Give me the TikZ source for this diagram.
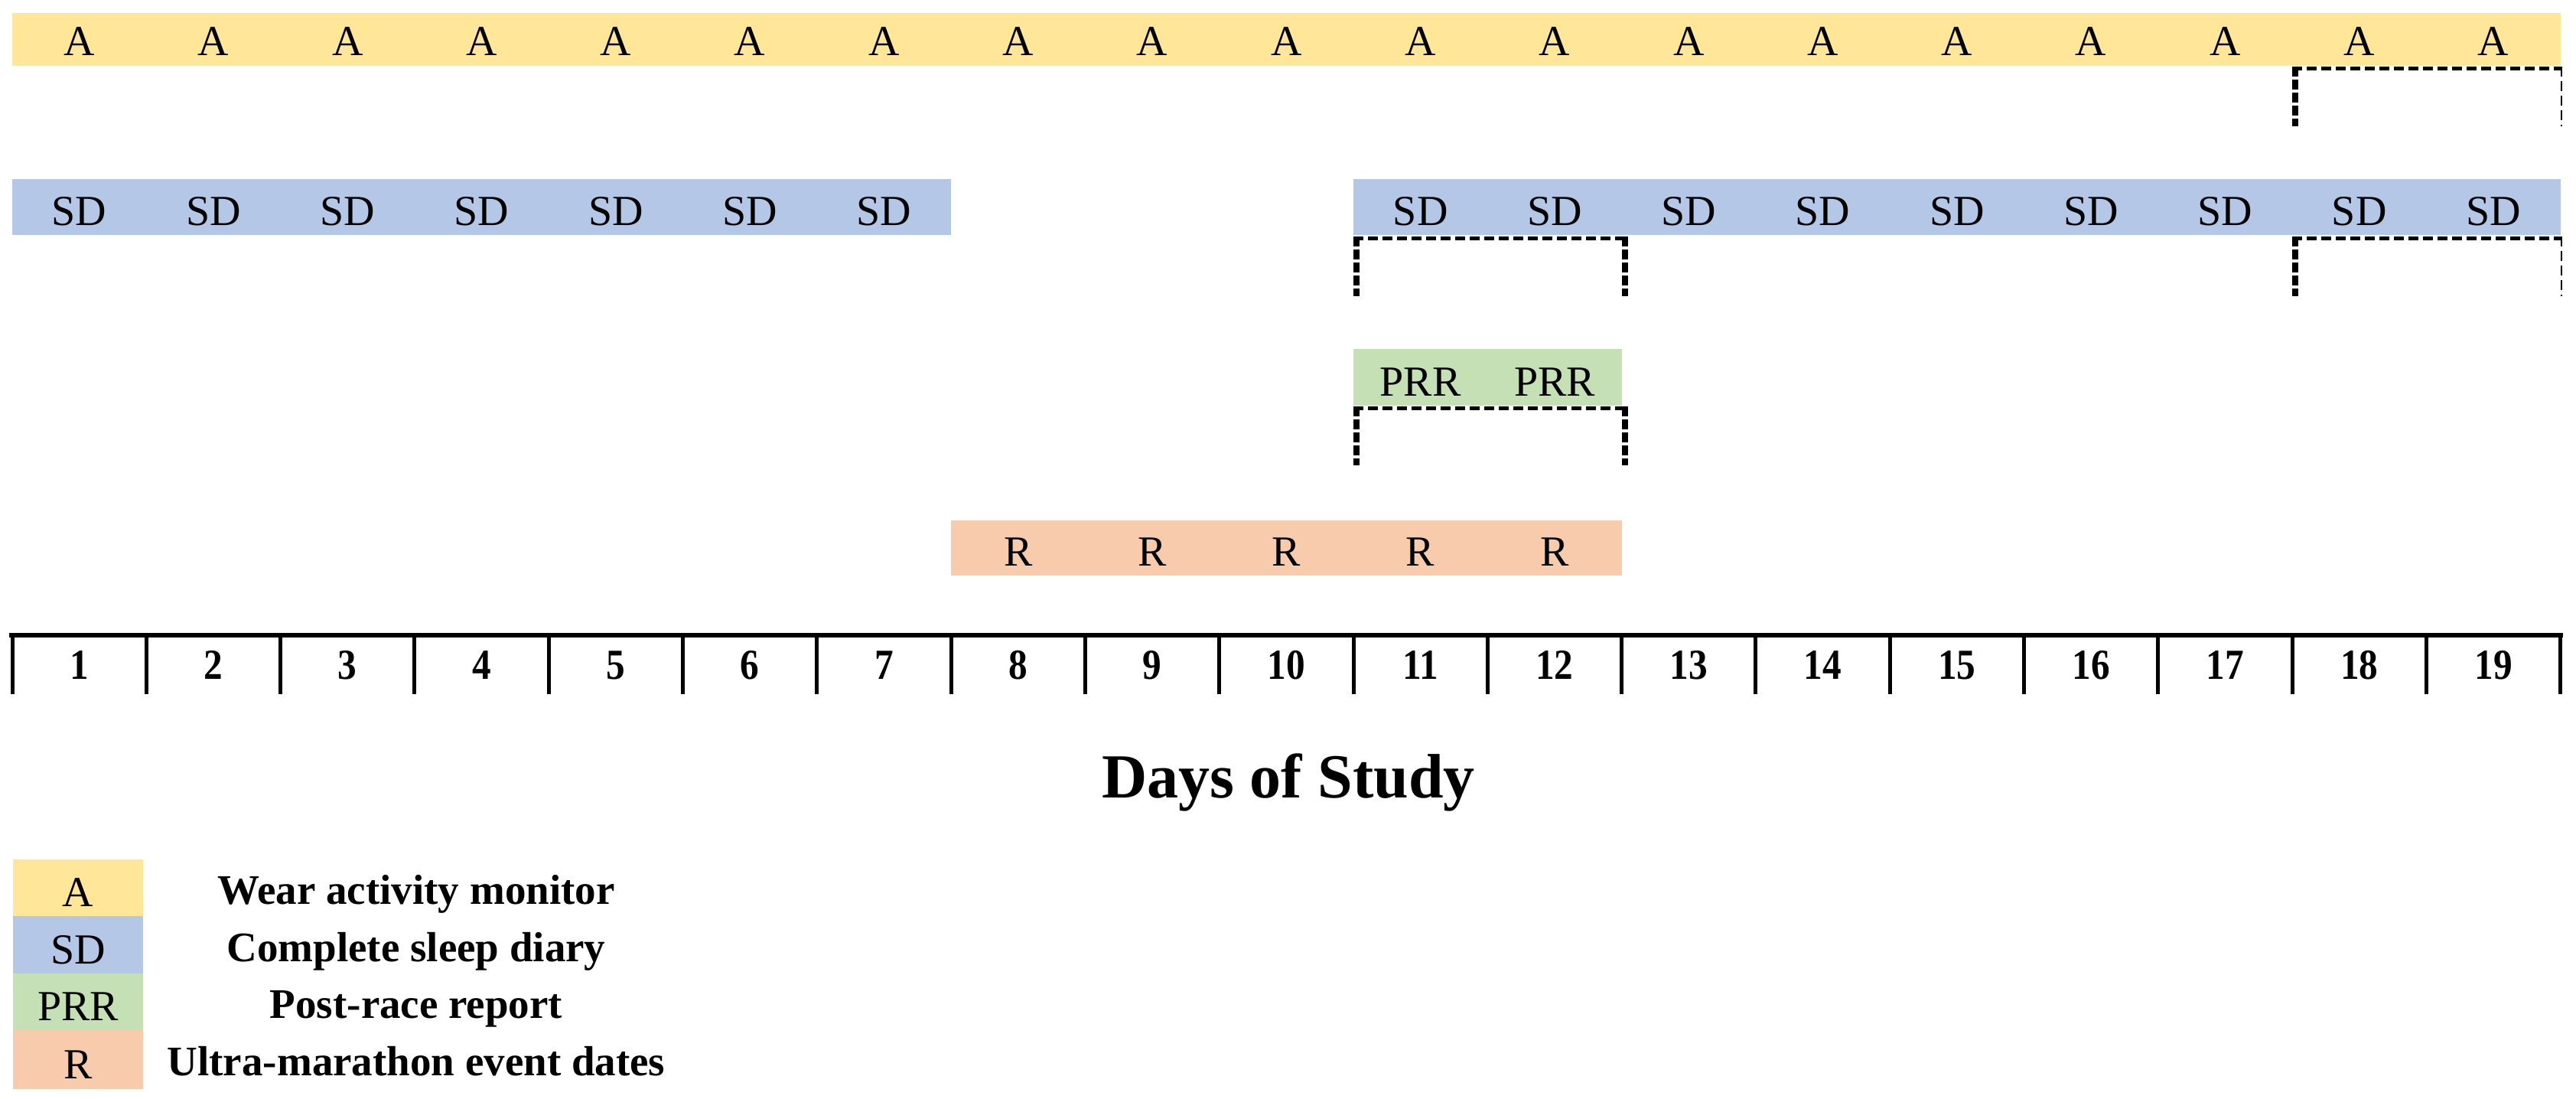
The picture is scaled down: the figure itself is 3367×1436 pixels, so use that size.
\documentclass[tikz,border=0pt]{standalone}
\usepackage{fontspec}
\setmainfont{Liberation Serif}
\newfontfamily\numfont[FakeStretch=0.88]{Liberation Serif}
\definecolor{cA}{HTML}{FFE699}
\definecolor{cSD}{HTML}{B4C7E7}
\definecolor{cPRR}{HTML}{C5E0B4}
\definecolor{cR}{HTML}{F8CBAD}
\newcommand\dayx[1]{16+#1*175.3}
\begin{document}
\begin{tikzpicture}[x=0.3pt,y=-0.3pt,
  lbl/.style={anchor=base,inner sep=0pt,font=\fontsize{16.8}{18}\selectfont},
  num/.style={anchor=base,inner sep=0pt,font=\numfont\bfseries\fontsize{16.8}{18}\selectfont},
  leg/.style={anchor=base,inner sep=0pt,font=\bfseries\fontsize{16.5}{18}\selectfont},
  ttl/.style={anchor=base,inner sep=0pt,font=\bfseries\fontsize{24.6}{28}\selectfont},
  brtop/.style={line width=1.5pt,dash pattern=on 3.9pt off 1.8pt},
  brthick/.style={line width=2.4pt,dash pattern=on 3.9pt off 1.2pt},
  brthin/.style={line width=0.6pt,dash pattern=on 3.9pt off 1.8pt},
  axisline/.style={line width=1.8pt},
  tickline/.style={line width=1.5pt}]
\useasboundingbox[fill=white] (0,0) rectangle (3367,1436);
% bars
\fill[cA] ({\dayx{0}},17) rectangle ({\dayx{19}},86);
\fill[cSD] ({\dayx{0}},234) rectangle ({\dayx{7}},307);
\fill[cSD] ({\dayx{10}},234) rectangle ({\dayx{19}},307);
\fill[cPRR] ({\dayx{10}},456) rectangle ({\dayx{12}},530);
\fill[cR] ({\dayx{7}},680) rectangle ({\dayx{12}},752);
% bar labels
\foreach \i in {1,...,19}
  \node[lbl] (a\i) at ({\dayx{\i}-87.65},73) {A};
\foreach \i in {1,...,7,11,12,13,14,15,16,17,18,19}
  \node[lbl] (sd\i) at ({\dayx{\i}-87.65},295) {SD};
\foreach \i in {11,12}
  \node[lbl] (prr\i) at ({\dayx{\i}-87.65},518) {PRR};
\foreach \i in {8,...,12}
  \node[lbl] (r\i) at ({\dayx{\i}-87.65},740) {R};
% dashed brackets
\draw[brtop] ({\dayx{17}},90) -- ({\dayx{19}},90);
\draw[brthick] ({\dayx{17}+4},87) -- ({\dayx{17}+4},165);
\draw[brthin] ({\dayx{19}+1},87) -- ({\dayx{19}+1},165);
\draw[brtop] ({\dayx{17}},312) -- ({\dayx{19}},312);
\draw[brthick] ({\dayx{17}+4},309) -- ({\dayx{17}+4},387);
\draw[brthin] ({\dayx{19}+1},309) -- ({\dayx{19}+1},387);
\draw[brtop] ({\dayx{10}},312) -- ({\dayx{12}+4},312);
\draw[brthick] ({\dayx{10}+4},309) -- ({\dayx{10}+4},387);
\draw[brthick] ({\dayx{12}+4},309) -- ({\dayx{12}+4},387);
\draw[brtop] ({\dayx{10}},534) -- ({\dayx{12}+4},534);
\draw[brthick] ({\dayx{10}+4},531) -- ({\dayx{10}+4},608);
\draw[brthick] ({\dayx{12}+4},531) -- ({\dayx{12}+4},608);
% axis
\draw[axisline] (12,830) -- (3350,830);
\foreach \k in {0,...,19}
  \draw[tickline] ({\dayx{\k}},830) -- ({\dayx{\k}},907);
\foreach \i in {1,...,19}
  \node[num] (d\i) at ({\dayx{\i}-87.65},888) {\i};
\node[ttl] (title) at (1684,1043) {Days of Study};
% legend
\fill[cA] (17,1123) rectangle (187,1197);
\fill[cSD] (17,1197) rectangle (187,1272);
\fill[cPRR] (17,1272) rectangle (187,1346);
\fill[cR] (17,1346) rectangle (187,1423);
\node[lbl] (la) at (102,1185) {A};
\node[lbl] (lsd) at (102,1260) {SD};
\node[lbl] (lprr) at (102,1334) {PRR};
\node[lbl] (lr) at (102,1410) {R};
\node[leg] (ta) at (544,1182) {Wear activity monitor};
\node[leg] (tsd) at (544,1257) {Complete sleep diary};
\node[leg] (tprr) at (544,1331) {Post-race report};
\node[leg] (tr) at (544,1406) {Ultra-marathon event dates};
\end{tikzpicture}
\end{document}
